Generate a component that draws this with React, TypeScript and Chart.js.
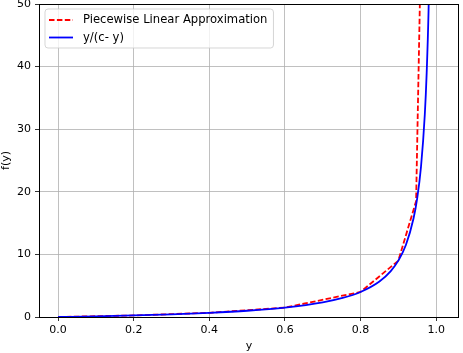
import React, { useEffect, useRef } from "react";
import { Chart, registerables } from "chart.js";

Chart.register(...registerables);

// Piecewise linear approximation (red dashed)
const approxY = [0, 0.2, 0.4, 0.6, 0.8, 0.9, 0.947, 0.962];
const approxF = [0, 0.25, 0.67, 1.5, 4.0, 9.0, 18.5, 66];

// y/(c - y) (blue)
const curveY = [0, 0.1, 0.2, 0.3, 0.4, 0.5, 0.6, 0.7, 0.75, 0.8, 0.85, 0.88, 0.9, 0.92, 0.94, 0.95, 0.96, 0.97, 0.975, 0.98, 0.985];
const curveF = [0, 0.11, 0.25, 0.43, 0.67, 1.0, 1.5, 2.33, 3.0, 4.0, 5.67, 7.33, 9.0, 11.5, 15.7, 19.0, 24.0, 32.3, 39.0, 49.0, 65.7];

const seriesLabels = ["Piecewise Linear Approximation", "y/(c- y)"];
const xTicks = [0, 0.2, 0.4, 0.6, 0.8, 1.0];
const yTicks = [0, 10, 20, 30, 40, 50];

const FONT = "'DejaVu Sans', sans-serif";
const FS = 11;
const LEGEND_FS = 11.6;

const framePlugin = {
  id: "frameAndLegend",
  afterDraw(chart: any) {
    const { ctx, chartArea } = chart;
    ctx.save();
    ctx.strokeStyle = "#000";
    ctx.lineWidth = 1;
    ctx.setLineDash([]);
    ctx.strokeRect(
      Math.round(chartArea.left) + 0.5,
      Math.round(chartArea.top) + 0.5,
      Math.round(chartArea.right - chartArea.left) - 1,
      Math.round(chartArea.bottom - chartArea.top)
    );

    // legend
    ctx.font = LEGEND_FS + "px " + FONT;
    const ds = chart.data.datasets;
    let maxW = 0;
    ds.forEach((d: any) => {
      maxW = Math.max(maxW, ctx.measureText(d.label).width);
    });
    const x0 = chartArea.left + 6;
    const y0 = chartArea.top + 5;
    const w = 38 + maxW + 6;
    const h = 39;
    const r = 3;
    ctx.beginPath();
    ctx.moveTo(x0 + r, y0);
    ctx.lineTo(x0 + w - r, y0);
    ctx.arcTo(x0 + w, y0, x0 + w, y0 + r, r);
    ctx.lineTo(x0 + w, y0 + h - r);
    ctx.arcTo(x0 + w, y0 + h, x0 + w - r, y0 + h, r);
    ctx.lineTo(x0 + r, y0 + h);
    ctx.arcTo(x0, y0 + h, x0, y0 + h - r, r);
    ctx.lineTo(x0, y0 + r);
    ctx.arcTo(x0, y0, x0 + r, y0, r);
    ctx.closePath();
    ctx.fillStyle = "rgba(255,255,255,0.8)";
    ctx.fill();
    ctx.strokeStyle = "rgba(204,204,204,0.8)";
    ctx.lineWidth = 1;
    ctx.stroke();

    ds.forEach((d: any, i: number) => {
      const yy = y0 + 11 + i * 17.5;
      ctx.beginPath();
      ctx.strokeStyle = d.borderColor;
      ctx.lineWidth = d.borderWidth;
      ctx.setLineDash(d.borderDash || []);
      ctx.moveTo(x0 + 4, yy);
      ctx.lineTo(x0 + 28, yy);
      ctx.stroke();
      ctx.setLineDash([]);
      ctx.fillStyle = "#000";
      ctx.textBaseline = "middle";
      ctx.textAlign = "left";
      ctx.fillText(d.label, x0 + 38, yy);
    });
    ctx.restore();
  },
};

export default function App() {
  const ref = useRef<HTMLCanvasElement | null>(null);

  useEffect(() => {
    if (!ref.current) return;
    const chart = new Chart(ref.current, {
      type: "line",
      data: {
        datasets: [
          {
            label: seriesLabels[0],
            data: approxY.map((v, i) => ({ x: v, y: approxF[i] })),
            borderColor: "#ff0000",
            borderWidth: 1.8,
            borderDash: [5.5, 2.4],
            pointRadius: 0,
            tension: 0,
            fill: false,
            order: 1,
          },
          {
            label: seriesLabels[1],
            data: curveY.map((v, i) => ({ x: v, y: curveF[i] })),
            borderColor: "#0000ff",
            borderWidth: 1.8,
            pointRadius: 0,
            cubicInterpolationMode: "monotone",
            fill: false,
            order: 0,
          },
        ],
      },
      options: {
        animation: false,
        responsive: false,
        devicePixelRatio: 1,
        layout: { padding: { top: 4, right: 4, left: 0, bottom: 0 } },
        plugins: {
          legend: { display: false },
          tooltip: { enabled: false },
        },
        scales: {
          x: {
            type: "linear",
            min: -0.0505,
            max: 1.0605,
            afterBuildTicks: (s: any) => {
              s.ticks = xTicks.map((v) => ({ value: v }));
            },
            afterFit: (s: any) => {
              s.height = 36;
              s.paddingLeft = 0;
              s.paddingRight = 0;
            },
            ticks: {
              color: "#000",
              font: { family: FONT, size: FS },
              padding: 3,
              maxRotation: 0,
              callback: (v: any) => Number(v).toFixed(1),
            },
            grid: {
              color: "#b0b0b0",
              lineWidth: 0.8,
              tickLength: 4,
              tickColor: "#000",
              tickWidth: 0.8,
            },
            border: { display: false },
            title: {
              display: true,
              text: "y",
              color: "#000",
              font: { family: FONT, size: FS },
              padding: 0,
            },
          },
          y: {
            type: "linear",
            min: 0,
            max: 50,
            afterBuildTicks: (s: any) => {
              s.ticks = yTicks.map((v) => ({ value: v }));
            },
            afterFit: (s: any) => {
              s.width = 39;
              s.paddingTop = 0;
              s.paddingBottom = 0;
            },
            ticks: {
              color: "#000",
              font: { family: FONT, size: FS },
              padding: 4,
              callback: (v: any) => String(v),
            },
            grid: {
              color: "#b0b0b0",
              lineWidth: 0.8,
              tickLength: 4,
              tickColor: "#000",
              tickWidth: 0.8,
            },
            border: { display: false },
            title: {
              display: true,
              text: "f(y)",
              color: "#000",
              font: { family: FONT, size: FS },
              padding: 0,
            },
          },
        },
      },
      plugins: [framePlugin],
    });
    return () => chart.destroy();
  }, []);

  return (
    <div style={{ position: "fixed", left: 0, top: 0, width: 463, height: 353, background: "#fff" }}>
      <canvas ref={ref} width={463} height={353} style={{ width: 463, height: 353, display: "block" }} />
    </div>
  );
}
